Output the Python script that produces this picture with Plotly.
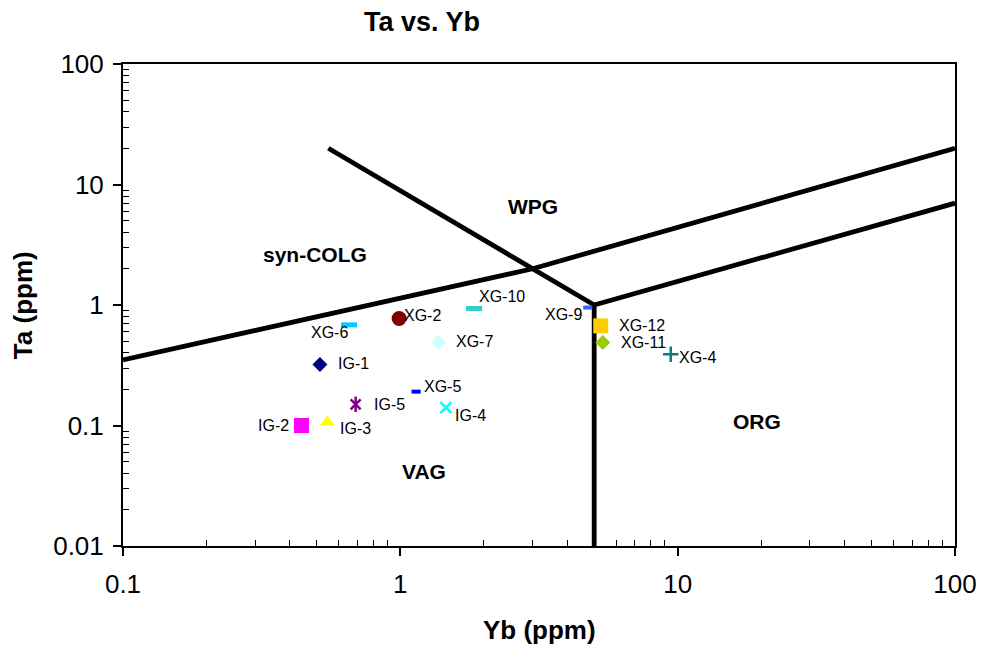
import numpy as np
import plotly.graph_objects as go

# ---- data ----
samples = ["IG-1", "IG-2", "IG-3", "IG-4", "IG-5",
           "XG-2", "XG-4", "XG-5", "XG-6", "XG-7", "XG-9", "XG-10", "XG-11", "XG-12"]
yb = [0.513, 0.44, 0.545, 1.46, 0.69,
      0.99, 9.44, 1.14, 0.653, 1.37, 4.74, 1.845, 5.37, 5.28]
ta = [0.321, 0.10, 0.107, 0.141, 0.15,
      0.773, 0.39, 0.191, 0.684, 0.494, 0.953, 0.935, 0.488, 0.671]

# discrimination boundaries (Pearce et al. 1984)
b1_yb = [0.1, 3, 100];   b1_ta = [0.35, 2, 20]
b2_yb = [0.55, 3, 5];    b2_ta = [20, 2, 1]
b3_yb = [5, 5, 100];     b3_ta = [0.01, 1, 7]

regions = ["syn-COLG", "WPG", "VAG", "ORG"]
region_yb = [0.492, 3.02, 1.22, 19.3]
region_ta = [2.62, 6.53, 0.0417, 0.108]

tick_vals_x = [0.1, 1, 10, 100]
tick_text_x = ["0.1", "1", "10", "100"]
tick_vals_y = [0.01, 0.1, 1, 10, 100]
tick_text_y = ["0.01", "0.1", "1", "10", "100"]

# ---- styles ----
style = {
    "IG-1": [dict(symbol="diamond", size=11.5, color="#000080")],
    "IG-2": [dict(symbol="square", size=15, color="#FF00FF")],
    "IG-3": [dict(symbol="triangle-up", size=13, color="#FFFF00")],
    "IG-4": [dict(symbol="x-thin-open", size=11, color="#00FFFF", lw=2.5)],
    "IG-5": [dict(symbol="x-thin-open", size=10, color="#800080", lw=2.5),
             dict(symbol="line-ns-open", size=11, color="#800080", lw=2.5)],
    "XG-2": [dict(symbol="circle", size=15, color="#800000")],
    "XG-4": [dict(symbol="cross-thin-open", size=11, color="#008080", lw=2.5)],
    "XG-5": [dict(symbol="line-ew-open", size=6.5, color="#0000FF", lw=4)],
    "XG-6": [dict(symbol="line-ew-open", size=11.5, color="#00CCFF", lw=5)],
    "XG-7": [dict(symbol="diamond", size=11.5, color="#CCFFFF")],
    "XG-9": [dict(symbol="line-ew-open", size=6.5, color="#3366FF", lw=4)],
    "XG-10": [dict(symbol="line-ew-open", size=11.5, color="#33CCCC", lw=5)],
    "XG-11": [dict(symbol="diamond", size=11.5, color="#99CC00")],
    "XG-12": [dict(symbol="square", size=15, color="#FFCC00")],
}
# label placement: (anchor, xshift, yshift)
label_pos = {
    "IG-1": ("left", 16, 1), "IG-2": ("right", -10, 0), "IG-3": ("left", 11, -7),
    "IG-4": ("left", 7, -8), "IG-5": ("left", 16, 0), "XG-2": ("left", 3, 3),
    "XG-4": ("left", 6, -3), "XG-5": ("left", 6, 5), "XG-6": ("right", 1, -8),
    "XG-7": ("left", 16, 0), "XG-9": ("right", -4, -7), "XG-10": ("left", 3, 12),
    "XG-11": ("left", 16, 0), "XG-12": ("left", 16, 0),
}

FONT = "Liberation Sans, Arial, sans-serif"
fig = go.Figure()

for bx, by in [(b1_yb, b1_ta), (b2_yb, b2_ta), (b3_yb, b3_ta)]:
    fig.add_trace(go.Scatter(x=bx, y=by, mode="lines",
                             line=dict(color="black", width=4.8),
                             hoverinfo="skip", showlegend=False))

annotations = []
for name, xv, yv in zip(samples, yb, ta):
    for s in style[name]:
        mk = dict(symbol=s["symbol"], size=s["size"], color=s["color"])
        if "lw" in s:
            mk["line"] = dict(color=s["color"], width=s["lw"])
        else:
            mk["line"] = dict(width=0)
        fig.add_trace(go.Scatter(x=[xv], y=[yv], mode="markers", marker=mk,
                                 name=name, showlegend=False))
    anc, dx, dy = label_pos[name]
    annotations.append(dict(x=np.log10(xv), y=np.log10(yv), xref="x", yref="y",
                            text=name, showarrow=False, xanchor=anc, yanchor="middle",
                            xshift=dx, yshift=dy,
                            font=dict(family=FONT, size=16, color="black")))

for name, xv, yv in zip(regions, region_yb, region_ta):
    annotations.append(dict(x=np.log10(xv), y=np.log10(yv), xref="x", yref="y",
                            text="<b>%s</b>" % name, showarrow=False,
                            xanchor="center", yanchor="middle",
                            font=dict(family=FONT, size=21, color="black")))

annotations += [
    dict(x=0.359, y=1.087, xref="paper", yref="paper", text="<b>Ta vs. Yb</b>",
         xanchor="center", yanchor="middle",
         showarrow=False, font=dict(family=FONT, size=27, color="black")),
    dict(x=0.5, y=-0.174, xref="paper", yref="paper", text="<b>Yb (ppm)</b>",
         xanchor="center", yanchor="middle",
         showarrow=False, font=dict(family=FONT, size=26, color="black")),
    dict(x=-0.12, y=0.5, xref="paper", yref="paper", text="<b>Ta (ppm)</b>",
         xanchor="center", yanchor="middle",
         textangle=-90, showarrow=False, font=dict(family=FONT, size=26, color="black")),
]

minor_x = [m * 10.0 ** e for e in (-1, 0, 1) for m in range(2, 10)]
minor_y = [m * 10.0 ** e for e in (-2, -1, 0, 1) for m in range(2, 10)]

axis_common = dict(type="log", showgrid=False, zeroline=False, automargin=False,
                   showline=True, linecolor="black", linewidth=2, mirror=True,
                   ticks="outside", ticklen=8, tickwidth=1.5, tickcolor="black",
                   tickfont=dict(family=FONT, size=26, color="black"))

fig.update_xaxes(range=[-1, 2], tickmode="array", tickvals=tick_vals_x, ticktext=tick_text_x,
                 ticklabelstandoff=6,
                 minor=dict(tickmode="array", tickvals=minor_x, ticks="inside",
                            ticklen=6, tickwidth=1.2, tickcolor="black"),
                 **axis_common)
fig.update_yaxes(range=[-2, 2], tickmode="array", tickvals=tick_vals_y, ticktext=tick_text_y,
                 ticklabelstandoff=4,
                 minor=dict(tickmode="array", tickvals=minor_y, ticks="inside",
                            ticklen=6, tickwidth=1.2, tickcolor="black"),
                 **axis_common)

fig.update_layout(width=982, height=648,
                  margin=dict(l=123, r=27, t=64, b=102),
                  paper_bgcolor="white", plot_bgcolor="white",
                  showlegend=False, annotations=annotations,
                  font=dict(family=FONT, color="black"))

fig.write_html("out.html")
